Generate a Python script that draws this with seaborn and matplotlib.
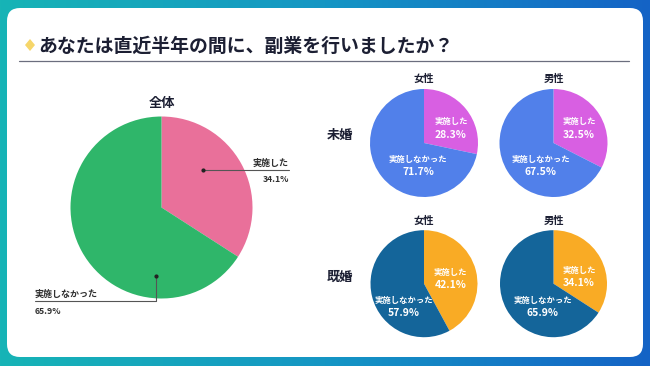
import numpy as np
import matplotlib
matplotlib.use("Agg")
import matplotlib.pyplot as plt
import seaborn as sns
from matplotlib.patches import FancyBboxPatch, Polygon
from matplotlib.colors import LinearSegmentedColormap

# ---------------- data ----------------
title = "あなたは直近半年の間に、副業を行いましたか？"
answers = ["実施した", "実施しなかった"]
overall_title = "全体"
overall_values = [34.1, 65.9]
genders = ["女性", "男性"]
row_labels = ["未婚", "既婚"]
unmarried_values = [[28.3, 71.7], [32.5, 67.5]]   # [done, not done] for 女性, 男性
married_values = [[42.1, 57.9], [34.1, 65.9]]

# ---------------- style ----------------
sns.set_theme(style="white")
plt.rcParams["font.family"] = ["Noto Sans CJK JP", "DejaVu Sans"]

overall_colors = sns.color_palette(["#e9709a", "#2fb66a"])
unmarried_colors = sns.color_palette(["#d85fe2", "#5180ea"])
married_colors = sns.color_palette(["#f9ab25", "#14659a"])
dark = "#1c1f33"

W, H = 650, 366
fig = plt.figure(figsize=(W / 100, H / 100), dpi=100)

# background axes in pixel coordinates
bg = fig.add_axes([0, 0, 1, 1])
bg.set_xlim(0, W)
bg.set_ylim(H, 0)
bg.axis("off")
cmap = LinearSegmentedColormap.from_list("g", ["#17b4b6", "#1596c4", "#1463c6"])
grad = np.linspace(0, 1, 256)[None, :]
bg.imshow(grad, extent=[0, W, H, 0], cmap=cmap, aspect="auto", zorder=0)
card = FancyBboxPatch((7, 8), 636, 349, boxstyle="round,pad=0,rounding_size=13",
                      facecolor="white", edgecolor="none", zorder=1)
bg.add_patch(card)
bg.add_patch(Polygon([[30, 39], [35, 45], [30, 51], [25, 45]], closed=True,
                     facecolor="#f6d66a", edgecolor="none", zorder=2))
bg.text(38, 46, title, fontsize=13.6, fontweight="bold", color=dark,
        ha="left", va="center", zorder=3)
bg.plot([19, 629], [61, 61], color="#6b6e7e", lw=0.9, zorder=2)

def pie_axes(cx, cy, r):
    ax = fig.add_axes([(cx - r) / W, 1 - (cy + r) / H, 2 * r / W, 2 * r / H])
    ax.set_xlim(-1, 1)
    ax.set_ylim(-1, 1)
    ax.set_aspect("equal")
    ax.axis("off")
    return ax

# ---------------- overall pie ----------------
ax = pie_axes(161.5, 207.5, 91)
ax.pie(overall_values, colors=overall_colors, startangle=90, counterclock=False,
       radius=1, wedgeprops=dict(linewidth=0))
ax.set_xlim(-1, 1)
ax.set_ylim(-1, 1)
bg.text(162, 103, overall_title, fontsize=9.5, fontweight="bold", color=dark,
        ha="center", va="center", zorder=3)
lab_col = "#2f2f2f"
# done label
ax.plot([0.453, 1.40], [0.412, 0.412], color="#555555", lw=0.8, clip_on=False)
ax.plot([0.453], [0.412], "o", color="#222222", ms=2, clip_on=False)
ax.text(1.40, 0.44, answers[0], fontsize=6.5, fontweight="bold", color=lab_col,
        ha="right", va="bottom", clip_on=False)
ax.text(1.40, 0.31, f"{overall_values[0]}%", fontsize=6.2, fontweight="bold", color=lab_col,
        ha="right", va="center", clip_on=False)
# not-done label
ax.plot([-0.06, -0.06, -1.39], [-0.753, -1.027, -1.027], color="#555555", lw=0.8, clip_on=False)
ax.plot([-0.06], [-0.753], "o", color="#222222", ms=2, clip_on=False)
ax.text(-1.39, -1.0, answers[1], fontsize=6.5, fontweight="bold", color=lab_col,
        ha="left", va="bottom", clip_on=False)
ax.text(-1.39, -1.148, f"{overall_values[1]}%", fontsize=6.2, fontweight="bold", color=lab_col,
        ha="left", va="center", clip_on=False)

# ---------------- small pies ----------------
centers_x = [424, 553.5]
rows = [
    dict(values=unmarried_values, colors=unmarried_colors, cy=143, r=54, title_y=79, label_y=135,
         pos=[[(0.50, 0.39), (-0.11, -0.30)], [(0.47, 0.39), (-0.235, -0.30)]]),
    dict(values=married_values, colors=married_colors, cy=283.7, r=53.5, title_y=220.5, label_y=277,
         pos=[[(0.50, 0.205), (-0.374, -0.318)], [(0.477, 0.256), (-0.206, -0.305)]]),
]
for ri, row in enumerate(rows):
    bg.text(340, row["label_y"], row_labels[ri], fontsize=9.5, fontweight="bold", color=dark,
            ha="center", va="center", zorder=3)
    for gi, g in enumerate(genders):
        cx = centers_x[gi]
        bg.text(cx, row["title_y"], g, fontsize=7.4, fontweight="bold", color=dark,
                ha="center", va="center", zorder=3)
        a = pie_axes(cx, row["cy"], row["r"])
        vals = row["values"][gi]
        a.pie(vals, colors=row["colors"], startangle=90, counterclock=False,
              radius=1, wedgeprops=dict(linewidth=0))
        a.set_xlim(-1, 1)
        a.set_ylim(-1, 1)
        for k in range(2):
            px, py = row["pos"][gi][k]
            a.text(px, py, answers[k], fontsize=6, fontweight="bold", color="white",
                   ha="center", va="center")
            a.text(px, py - 0.235, f"{vals[k]}%", fontsize=7.5, fontweight="bold",
                   color="white", ha="center", va="center")

fig.savefig("out.png", dpi=100)
